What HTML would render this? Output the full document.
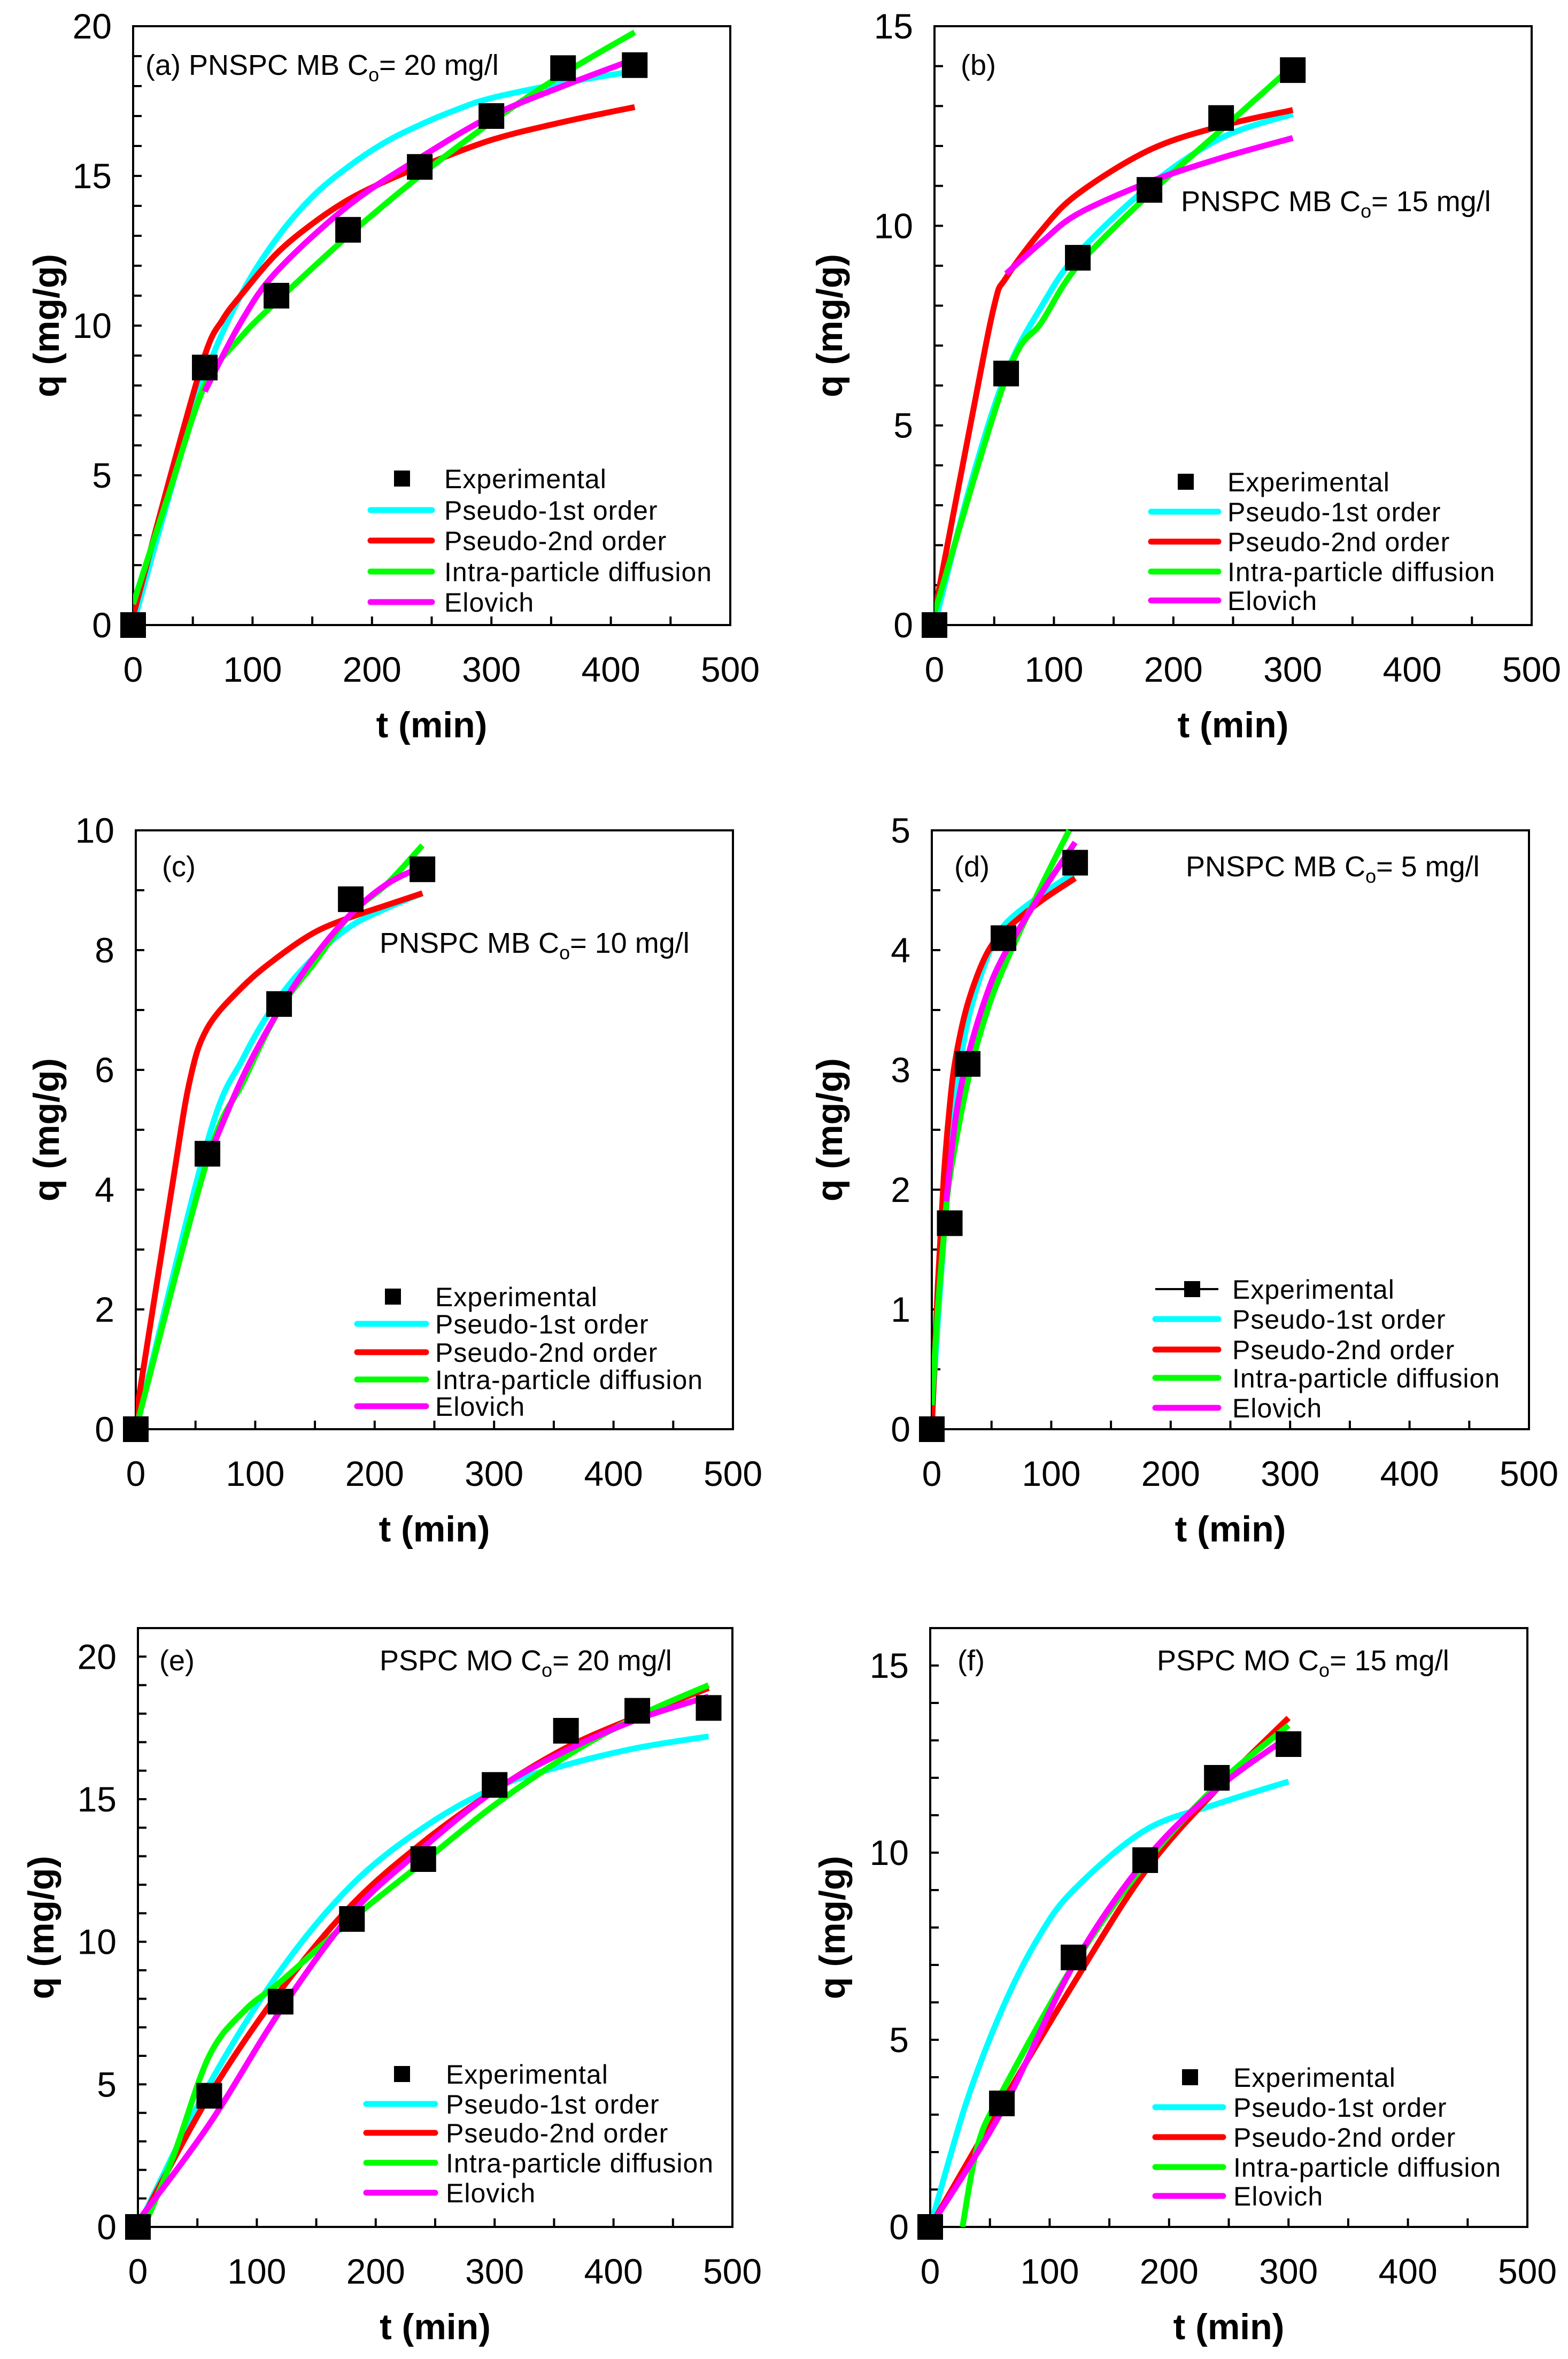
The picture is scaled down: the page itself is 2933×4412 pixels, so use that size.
<!DOCTYPE html>
<html><head><meta charset="utf-8"><style>
html,body{margin:0;padding:0;background:#fff;}
svg{display:block;font-family:"Liberation Sans",Arial,sans-serif;}
</style></head><body>
<svg id="fig" width="2933" height="4412" viewBox="0 0 2933 4412" xmlns="http://www.w3.org/2000/svg"></svg>
<script>
// ---- Panel (a) data ----
const a_exp_t=[0,60,120,180,240,300,360,420];
const a_exp_q=[0,8.6,11,13.2,15.3,17,18.6,18.7];
const a_pfo_t=[0,30,60,90,120,150,180,210,240,270,300,360,420];
const a_pfo_q=[0,4.3,8.3,11,12.9,14.3,15.3,16.1,16.7,17.2,17.6,18.1,18.5];
const a_pso_t=[0,30,60,75,90,120,150,180,210,240,300,360,420];
const a_pso_q=[0.3,4.8,9,10.2,11,12.4,13.4,14.2,14.8,15.3,16.2,16.8,17.3];
const a_ipd_t=[0,30,60,90,120,180,240,300,360,420];
const a_ipd_q=[0.7,4.4,8,9.6,10.8,13,15,16.8,18.4,19.8];
const a_elo_t=[60,90,120,180,240,300,360,420];
const a_elo_q=[7.8,10.1,11.8,14,15.6,17,18,18.9];
// ---- Panel (b) data ----
const b_exp_t=[0,60,120,180,240,300];
const b_exp_q=[0,6.3,9.2,10.9,12.7,13.9];
const b_pfo_t=[0,30,60,90,120,180,240,300];
const b_pfo_q=[0,3.5,6.3,8,9.3,11,12.2,12.8];
const b_pso_t=[0,30,50,60,90,120,180,240,300];
const b_pso_q=[0.3,5,8,8.7,9.9,10.8,11.9,12.5,12.9];
const b_ipd_t=[0,60,90,120,180,240,300];
const b_ipd_q=[0.3,6.2,7.6,9,10.8,12.4,14];
const b_elo_t=[60,90,120,180,240,300];
const b_elo_q=[8.8,9.6,10.3,11.1,11.7,12.2];
// ---- Panel (c) data ----
const c_exp_t=[0,60,120,180,240];
const c_exp_q=[0,4.6,7.1,8.85,9.35];
const c_pfo_t=[0,60,90,120,150,180,210,240];
const c_pfo_q=[0,4.8,6.2,7.2,7.9,8.4,8.7,8.95];
const c_pso_t=[0,30,45,60,90,120,150,180,210,240];
const c_pso_q=[0.2,4,5.8,6.7,7.4,7.9,8.3,8.55,8.75,8.95];
const c_ipd_t=[0,60,90,120,150,180,210,240];
const c_ipd_q=[0,4.5,5.8,7,7.8,8.6,9.1,9.75];
const c_elo_t=[60,90,120,150,180,210,240];
const c_elo_q=[4.5,5.9,7,7.9,8.6,9.1,9.4];
// ---- Panel (d) data ----
const d_exp_t=[0,15,30,60,120];
const d_exp_q=[0,1.72,3.05,4.1,4.73];
const d_pfo_t=[0,5,10,15,20,30,45,60,90,120];
const d_pfo_q=[0.1,0.9,1.6,2.3,2.8,3.4,3.9,4.2,4.45,4.65];
const d_pso_t=[0,5,10,15,20,30,45,60,90,120];
const d_pso_q=[0,1.2,2.1,2.7,3.1,3.55,3.95,4.15,4.4,4.6];
const d_ipd_t=[0,5,10,15,30,45,60,90,115];
const d_ipd_q=[0.2,1,1.6,2.1,2.9,3.45,3.85,4.5,5];
const d_elo_t=[12,20,30,45,60,90,120];
const d_elo_q=[1.9,2.6,3.1,3.6,3.95,4.45,4.9];
// ---- Panel (e) data ----
const e_exp_t=[0,60,120,180,240,300,360,420,480];
const e_exp_q=[0,4.6,7.9,10.8,12.9,15.5,17.4,18.1,18.2];
const e_pfo_t=[0,60,120,180,240,300,360,420,480];
const e_pfo_q=[0,5,9,12,14,15.4,16.2,16.8,17.2];
const e_pso_t=[0,60,120,180,240,300,360,420,480];
const e_pso_q=[0,4.6,8.3,11.3,13.5,15.3,16.8,17.9,18.9];
const e_ipd_t=[5,30,60,90,120,180,240,300,360,420,480];
const e_ipd_q=[0,2.5,6,7.6,8.6,10.8,12.8,14.8,16.5,17.9,19];
const e_elo_t=[0,60,120,180,240,300,360,420,480];
const e_elo_q=[0.2,3.6,7.6,11,13.3,15.3,16.7,17.8,18.6];
// ---- Panel (f) data ----
const f_exp_t=[0,60,120,180,240,300];
const f_exp_q=[0,3.3,7.2,9.8,12,12.9];
const f_pfo_t=[0,30,60,90,120,180,240,300];
const f_pfo_q=[0,3.3,5.8,7.7,9,10.6,11.3,11.9];
const f_pso_t=[0,60,120,180,240,300];
const f_pso_q=[0,3.3,6.5,9.5,11.7,13.6];
const f_ipd_t=[27,40,60,120,180,240,300];
const f_ipd_q=[0,2.2,3.6,7,9.7,11.8,13.4];
const f_elo_t=[0,60,120,180,240,300];
const f_elo_q=[0,3.1,7,9.8,11.7,13.1];
// tick labels
const x_tick_labels=[0,100,200,300,400,500];
const legend_labels=["Experimental","Pseudo-1st order","Pseudo-2nd order","Intra-particle diffusion","Elovich"];

const NS="http://www.w3.org/2000/svg";
const svg=document.getElementById('fig');
function mk(tag,attrs,parent,text){const e=document.createElementNS(NS,tag);for(const k in attrs)e.setAttribute(k,attrs[k]);if(text!==undefined)e.textContent=text;(parent||svg).appendChild(e);return e;}
const COL={pfo:'#00ffff',pso:'#ff0000',ipd:'#00ff00',elo:'#ff00ff'};
function smooth(pts){
  if(pts.length<3)return 'M'+pts.map(p=>p[0].toFixed(1)+','+p[1].toFixed(1)).join(' L');
  let d='M'+pts[0][0].toFixed(1)+','+pts[0][1].toFixed(1);
  for(let i=0;i<pts.length-1;i++){
    const p0=pts[Math.max(0,i-1)],p1=pts[i],p2=pts[i+1],p3=pts[Math.min(pts.length-1,i+2)];
    const c1x=p1[0]+(p2[0]-p0[0])/6,c1y=p1[1]+(p2[1]-p0[1])/6;
    const c2x=p2[0]-(p3[0]-p1[0])/6,c2y=p2[1]-(p3[1]-p1[1])/6;
    d+=` C${c1x.toFixed(1)},${c1y.toFixed(1)} ${c2x.toFixed(1)},${c2y.toFixed(1)} ${p2[0].toFixed(1)},${p2[1].toFixed(1)}`;
  }
  return d;
}

function panel(cfg){
  const g=mk('g',{});
  
  
  const L=cfg.L,T=cfg.T,W=cfg.W,H=cfg.H;
  const xs=t=>L+t/500*W, ys=q=>T+H-q/cfg.ymax*H;
  const cp=mk('clipPath',{id:'clip'+cfg.id},g);mk('rect',{x:L,y:T-40,width:W+40,height:H+40},cp);
  for(let v=0;v<=cfg.ymax+1e-9;v+=cfg.minor){
    const y=ys(v);const major=Math.abs(v/cfg.major-Math.round(v/cfg.major))<1e-6;
    const tk=mk('line',{x1:L,x2:L+16,y1:y,y2:y,stroke:'#000','stroke-width':4},g);
    
    if(major){const lb=mk('text',{x:L-40,y:y+23,'text-anchor':'end','font-size':66},g,String(Math.round(v*10)/10));
      }
  }
  for(let v=50;v<500;v+=50){const x=xs(v);
    const tk=mk('line',{x1:x,x2:x,y1:T+H,y2:T+H-16,stroke:'#000','stroke-width':4},g);
    }
  x_tick_labels.forEach(v=>{const lb=mk('text',{x:xs(v),y:T+H+106,'text-anchor':'middle','font-size':66},g,String(v));
    });
  const fr=mk('rect',{x:L,y:T,width:W,height:H,fill:'none',stroke:'#000','stroke-width':4},g);
  
  const xt=mk('text',{x:L+W/2,y:T+H+210,'text-anchor':'middle','font-size':68,'font-weight':'bold'},g,'t (min)');
  
  const yt=mk('text',{x:0,y:0,'text-anchor':'middle','font-size':68,'font-weight':'bold',transform:`translate(${cfg.yTitleX},${T+H/2}) rotate(-90)`},g,'q (mg/g)');
  
  const cg=mk('g',{'clip-path':`url(#clip${cfg.id})`},g);
  ['pfo','pso','ipd','elo'].forEach(k=>{
    const tt=cfg[k+'_t'],qq=cfg[k+'_q'];
    const pts=tt.map((t,i)=>[xs(t),ys(qq[i])]);
    const p=mk('path',{d:smooth(pts),fill:'none',stroke:COL[k],'stroke-width':11,'stroke-linejoin':'round','stroke-linecap':'butt'},cg);
    
  });
  cfg.exp_t.forEach((t,i)=>{
    const r=mk('rect',{x:xs(t)-24,y:ys(cfg.exp_q[i])-24,width:48,height:48,fill:'#000'},g);
    
  });
  const lg=mk('g',{},g);
  const Lg=cfg.leg;
  Lg.rows.forEach((y,i)=>{
    if(i===0){
      if(cfg.expLine){const ln=mk('line',{x1:Lg.x1,x2:Lg.x2,y1:y,y2:y,stroke:'#000','stroke-width':4},lg);
        }
      const m=mk('rect',{x:Lg.mx-15,y:y-15,width:30,height:30,fill:'#000'},lg);
      
    } else {
      const k=['pfo','pso','ipd','elo'][i-1];
      const ln=mk('line',{x1:Lg.x1,x2:Lg.x2,y1:y,y2:y,stroke:COL[k],'stroke-width':11,'stroke-linecap':'round'},lg);
      
    }
    const tx=mk('text',{x:Lg.tx,y:y+18,'font-size':50,'letter-spacing':1},lg,legend_labels[i]);
    
  });
  cfg.ann.forEach(a=>{
    const t=mk('text',{x:a.x,y:a.y+19,'font-size':54},g);
    
    if(a.co){mk('tspan',{},t,a.pre+'C');mk('tspan',{'font-size':36,dy:12},t,'o');mk('tspan',{dy:-12},t,a.post);}
    else t.textContent=a.pre;
  });
}
function P(id){return {exp_t:eval(id+'_exp_t'),exp_q:eval(id+'_exp_q'),pfo_t:eval(id+'_pfo_t'),pfo_q:eval(id+'_pfo_q'),
  pso_t:eval(id+'_pso_t'),pso_q:eval(id+'_pso_q'),ipd_t:eval(id+'_ipd_t'),ipd_q:eval(id+'_ipd_q'),elo_t:eval(id+'_elo_t'),elo_q:eval(id+'_elo_q')};}
const LW=1117,LH=1120;
panel(Object.assign(P('a'),{id:'a',L:249,T:49,W:LW,H:LH,ymax:20,major:5,minor:1,yTitleX:110,
  leg:{x1:693,x2:808,mx:752,tx:831,rows:[895,954,1011,1069,1126]},
  ann:[{x:272,y:121,co:true,pre:'(a) PNSPC MB ',post:'= 20 mg/l'}]}));
panel(Object.assign(P('b'),{id:'b',L:1748,T:49,W:LW,H:LH,ymax:15,major:5,minor:1,yTitleX:1575,
  leg:{x1:2153,x2:2279,mx:2218,tx:2296,rows:[901,957,1013,1069,1123]},
  ann:[{x:1797,y:121,pre:'(b)'},{x:2209,y:376,co:true,pre:'PNSPC MB ',post:'= 15 mg/l'}]}));
panel(Object.assign(P('c'),{id:'c',L:254,T:1553,W:LW,H:LH,ymax:10,major:2,minor:1,yTitleX:110,
  leg:{x1:668,x2:797,mx:735,tx:814,rows:[2425,2476,2529,2580,2630]},
  ann:[{x:303,y:1620,pre:'(c)'},{x:710,y:1763,co:true,pre:'PNSPC MB ',post:'= 10 mg/l'}]}));
panel(Object.assign(P('d'),{id:'d',L:1743,T:1553,W:LW,H:LH,ymax:5,major:1,minor:0.5,yTitleX:1575,expLine:true,
  leg:{x1:2161,x2:2279,mx:2230,tx:2305,rows:[2411,2467,2524,2577,2633]},
  ann:[{x:1785,y:1620,pre:'(d)'},{x:2218,y:1620,co:true,pre:'PNSPC MB ',post:'= 5 mg/l'}]}));
panel(Object.assign(P('e'),{id:'e',L:258,T:3045,W:1112,H:LH,ymax:21,major:5,minor:1,yTitleX:100,
  leg:{x1:685,x2:814,mx:752,tx:834,rows:[3879,3935,3989,4045,4101]},
  ann:[{x:298,y:3105,pre:'(e)'},{x:710,y:3105,co:true,pre:'PSPC MO ',post:'= 20 mg/l'}]}));
panel(Object.assign(P('f'),{id:'f',L:1740,T:3045,W:LW,H:LH,ymax:16,major:5,minor:1,yTitleX:1580,
  leg:{x1:2161,x2:2288,mx:2226,tx:2307,rows:[3885,3941,3997,4053,4107]},
  ann:[{x:1791,y:3105,pre:'(f)'},{x:2164,y:3105,co:true,pre:'PSPC MO ',post:'= 15 mg/l'}]}));
</script>
</body></html>
